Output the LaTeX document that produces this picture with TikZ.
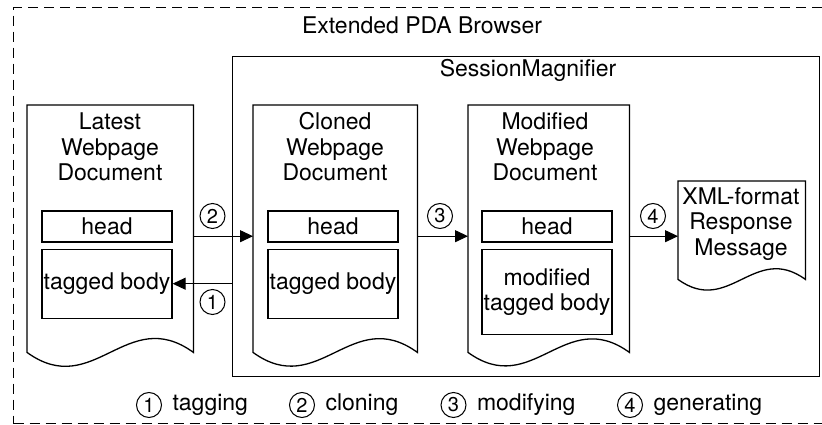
\documentclass[tikz,border=0pt]{standalone}
\usepackage{fontspec}
\setmainfont{TeX Gyre Heros}
\usetikzlibrary{positioning,arrows.meta,calc}

\tikzset{
  docline/.style={draw,line width=1.3pt},
  docpage/.style={minimum width=#1,inner sep=0pt,anchor=north west},
  part/.style={draw,line width=1.2pt,minimum width=130pt,inner sep=0pt,align=center},
  flow/.style={-{Triangle[length=13pt,width=12pt]},line width=1pt},
  circnum/.style={circle,draw,line width=1pt,inner sep=0pt,minimum size=25pt,font=\fontsize{20}{20}\selectfont},
  doctitle/.style={align=center,font=\fontsize{23}{25.5}\selectfont},
}

% page outline with a wavy bottom edge, drawn round a named node
\newcommand{\docoutline}[1]{%
  \draw[docline] let \p1=(#1.south west), \p2=(#1.south east),
    \n1={0.29*(\x2-\x1)} in
    (#1.north west) -- (#1.north east) -- (\p2)
    .. controls ({\x2-0.4*(\x2-\x1)},{\y2+\n1}) and ({\x1+0.4*(\x2-\x1)},{\y1-\n1}) .. (\p1) -- cycle;}

\begin{document}
\begin{tikzpicture}[x=1pt,y=-1pt,font=\fontsize{23}{25}\selectfont]
  \clip (0,0) rectangle (822,425);
  % frames
  \node[draw,dash pattern=on 10pt off 6pt,line width=1.2pt,docpage=812pt,minimum height=416pt] (browser) at (13,7) {};
  \node (browserT) at (422,25) {Extended PDA Browser};
  \node[draw,line width=1.3pt,docpage=587pt,minimum height=320pt] (magnifier) at (232,56) {};
  \node (magnifierT) at (528,70) {SessionMagnifier};

  % documents
  \node[docpage=166pt,minimum height=247pt] (latest) at (27,105) {};
  \node[docpage=164pt,minimum height=247pt] (cloned) at (253,105) {};
  \node[docpage=161pt,minimum height=247pt] (modified) at (468,105) {};
  \node[docpage=127pt,minimum height=98pt] (response) at (678,181) {};
  \docoutline{latest}
  \docoutline{cloned}
  \docoutline{modified}
  \docoutline{response}

  \node[doctitle] (latestT) at (110,147) {Latest\\Webpage\\Document};
  \node[doctitle] (clonedT) at (335,147) {Cloned\\Webpage\\Document};
  \node[doctitle] (modifiedT) at (545,147) {Modified\\Webpage\\Document};
  \node[doctitle] (responseT) at (741,224) {XML-format\\Response\\Message};

  \node[part,minimum height=31pt] (head1) at (107,226.5) {head};
  \node[part,minimum height=69pt,below=6pt of head1] (body1) {tagged body};
  \node[part,minimum height=31pt] (head2) at (333,226.5) {head};
  \node[part,minimum height=69pt,below=6pt of head2] (body2) {tagged body};
  \node[part,minimum height=31pt] (head3) at (547,226.5) {head};
  \node[part,minimum height=85pt,below=6pt of head3] (body3) {modified\\tagged body};

  % steps
  \draw[flow] (magnifier.west |- body1.east) -- (body1.east);
  \draw[flow] ([yshift=-7.5pt]latest.east) -- ([yshift=-7.5pt]cloned.west);
  \draw[flow] ([yshift=-7.5pt]cloned.east) -- ([yshift=-7.5pt]modified.west);
  \coordinate (a4) at ([yshift=-7.5pt]modified.east);
  \draw[flow] (a4) -- (a4 -| response.west);

  \node[circnum] (n1) at (212.5,302) {1};
  \node[circnum] (n2) at (212.5,216) {2};
  \node[circnum] (n3) at (440,216) {3};
  \node[circnum] (n4) at (653,216) {4};

  % legend
  \node[circnum] (l1) at (149,405) {1};
  \node[right=7pt of l1] (l1t) {tagging};
  \node[circnum] (l2) at (302,405) {2};
  \node[right=7pt of l2] (l2t) {cloning};
  \node[circnum] (l3) at (453.5,405) {3};
  \node[right=7pt of l3] (l3t) {modifying};
  \node[circnum] (l4) at (630,405) {4};
  \node[right=7pt of l4] (l4t) {generating};
\end{tikzpicture}
\end{document}
